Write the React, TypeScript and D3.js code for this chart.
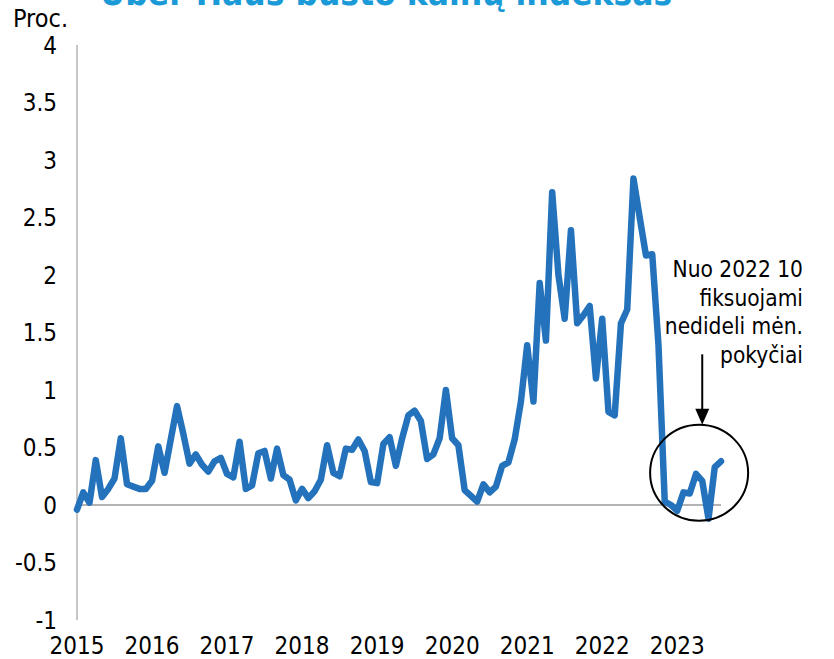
import React from "react";
import * as d3 from "d3";

const title = "Uber Haus būsto kainų indeksas";
const unitLabel = "Proc.";
const yearLabels = ["2015", "2016", "2017", "2018", "2019", "2020", "2021", "2022", "2023"];
const yTicks = [-1, -0.5, 0, 0.5, 1, 1.5, 2, 2.5, 3, 3.5, 4];
// monthly change, Jan 2015 .. Aug 2023
const values = [
  -0.04, 0.11, 0.02, 0.39, 0.07, 0.14, 0.23, 0.58, 0.18, 0.16, 0.14, 0.14,
  0.21, 0.51, 0.28, 0.57, 0.86, 0.62, 0.36, 0.44, 0.35, 0.29, 0.38, 0.41,
  0.27, 0.24, 0.55, 0.14, 0.17, 0.45, 0.47, 0.23, 0.49, 0.26, 0.22, 0.04,
  0.14, 0.06, 0.12, 0.22, 0.52, 0.28, 0.25, 0.49, 0.48, 0.57, 0.47, 0.2,
  0.19, 0.53, 0.59, 0.34, 0.58, 0.78, 0.82, 0.73, 0.4, 0.44, 0.58, 1.0,
  0.58, 0.52, 0.13, 0.08, 0.03, 0.18, 0.11, 0.16, 0.34, 0.37, 0.57, 0.9,
  1.39, 0.9, 1.93, 1.43, 2.72, 2.0, 1.62, 2.39, 1.58, 1.65, 1.73, 1.1,
  1.62, 0.81, 0.78, 1.58, 1.7, 2.84, 2.5, 2.17, 2.18, 1.39, 0.03, 0.0,
  -0.05, 0.11, 0.1, 0.27, 0.21, -0.12, 0.33, 0.38,
];
const noteLines = ["Nuo 2022 10", "fiksuojami", "nedideli mėn.", "pokyčiai"];

export default function App() {
  const W = 834, H = 659;
  const x = d3.scaleLinear().domain([0, values.length - 1]).range([77, 721]);
  const y = d3.scaleLinear().domain([-1, 4]).range([620, 45]);
  const line = d3.line<number>().x((_, i) => x(i)).y((d) => y(d));
  const font = "'DejaVu Sans Condensed', 'DejaVu Sans', sans-serif";
  const cx = x(99.5), cy = y(0.28), rx = 49, ry = 48;
  const ax = x(100);
  return (
    <svg width={W} height={H} style={{ position: "absolute", left: 0, top: 0, background: "#fff" }}
      fontFamily={font}>
      <text x={386} y={5} textAnchor="middle" fontSize={35} fontWeight="bold" fill="#1b9ad8">{title}</text>
      <text x={13} y={27} fontSize={25} fill="#000">{unitLabel}</text>
      <line x1={x(0)} x2={x(0)} y1={y(4)} y2={y(-1)} stroke="#b3b3b3" strokeWidth={1.5} />
      <line x1={x(0)} x2={x(values.length - 1)} y1={y(0)} y2={y(0)} stroke="#b3b3b3" strokeWidth={2} />
      {yTicks.map((t) => (
        <text key={t} x={57} y={y(t)} dy="0.36em" textAnchor="end" fontSize={24} fill="#000">{t}</text>
      ))}
      {yearLabels.map((lab, k) => (
        <text key={lab} x={x(k * 12)} y={654} textAnchor="middle" fontSize={24} fill="#000">{lab}</text>
      ))}
      <path d={line(values) || ""} fill="none" stroke="#2372bb" strokeWidth={6.5}
        strokeLinejoin="round" strokeLinecap="round" />
      <ellipse cx={cx} cy={cy} rx={rx} ry={ry} fill="none" stroke="#000" strokeWidth={2} />
      <line x1={ax} x2={ax} y1={y(1.31)} y2={cy - ry - 12} stroke="#000" strokeWidth={2} />
      <path d={`M${ax - 7},${cy - ry - 16} L${ax + 7},${cy - ry - 16} L${ax},${cy - ry} Z`} fill="#000" />
      {noteLines.map((l, k) => (
        <text key={k} x={803} y={277 + k * 28.5} textAnchor="end" fontSize={22.5} fill="#000">{l}</text>
      ))}
    </svg>
  );
}
